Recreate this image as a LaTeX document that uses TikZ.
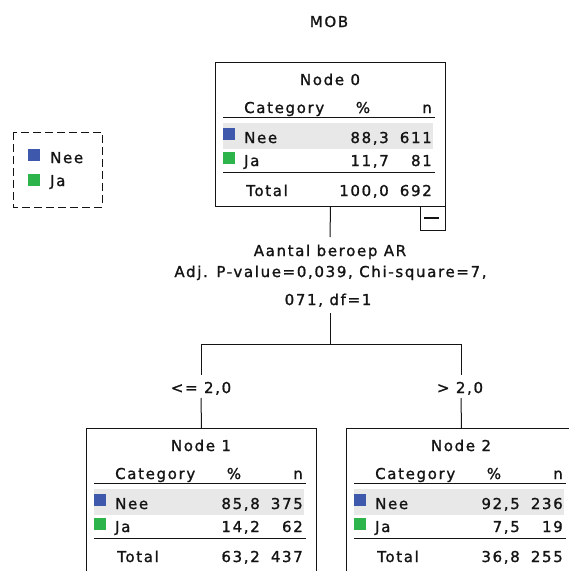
\documentclass[tikz,border=0pt]{standalone}
\usepackage{fontspec}
\setmainfont{DejaVu Sans}[LetterSpace=11,FakeBold=1.2]
\definecolor{neeblue}{RGB}{62,88,172}
\definecolor{jagreen}{RGB}{45,180,75}
\definecolor{rowgray}{RGB}{232,232,232}
\definecolor{ink}{RGB}{20,20,20}
\tikzset{
  txt/.style={inner sep=0pt, text=ink, font=\fontsize{15}{18}\selectfont},
  boxn/.style={draw=ink, line width=1pt, minimum width=230pt, anchor=north west, inner sep=0pt},
  rule/.style={draw=ink, line width=1.3pt},
  conn/.style={draw=ink, line width=1pt},
}
\newcommand\tblock[9]{%
  \node[boxn, minimum height=#9] (#1) at (0,0) {};
  \node[txt, anchor=base] (#1-title) at (115,23) {#2};
  \node[txt, anchor=base west] (#1-hc) at (29,51) {Category};
  \node[txt, anchor=base] (#1-hp) at (148,51) {\%};
  \node[txt, anchor=base east] (#1-hn) at (217,51) {n};
  \draw[rule] (8,55.5) -- (220,55.5);
  \fill[rowgray] (8,61) rectangle (218,87);
  \fill[neeblue] (8,66) rectangle (20,78);
  \node[txt, anchor=base west] (#1-nee) at (29,81) {Nee};
  \node[txt, anchor=base east] (#1-neep) at (174,81) {#3};
  \node[txt, anchor=base east] (#1-neen) at (217,81) {#4};
  \fill[jagreen] (8,90) rectangle (20,102);
  \node[txt, anchor=base west] (#1-ja) at (29,104) {Ja};
  \node[txt, anchor=base east] (#1-jap) at (174,104) {#5};
  \node[txt, anchor=base east] (#1-jan) at (217,104) {#6};
  \draw[rule] (8,110.5) -- (220,110.5);
  \node[txt, anchor=base west] (#1-tot) at (31,134) {Total};
  \node[txt, anchor=base east] (#1-totp) at (174,134) {#7};
  \node[txt, anchor=base east] (#1-totn) at (217,134) {#8};
}
\begin{document}
\begin{tikzpicture}[x=1pt,y=-1pt]
\useasboundingbox (0,0) rectangle (569,571);
\clip (0,0) rectangle (569,571);
\fill[white] (0,0) rectangle (569,571);

% title
\node[txt, anchor=base] (title) at (329,27) {MOB};

% legend
\draw[ink, line width=1pt, dash pattern=on 8pt off 4pt] (13,132) rectangle (102,207);
\fill[neeblue] (28,149) rectangle (40,161);
\node[txt, anchor=base west] (legnee) at (50,163) {Nee};
\fill[jagreen] (28,174) rectangle (40,186);
\node[txt, anchor=base west] (legja) at (50,186) {Ja};

% node 0
\begin{scope}[shift={(215,62)}]
  \tblock{n0}{Node 0}{88,3}{611}{11,7}{81}{100,0}{692}{144pt}
  \node[draw=ink, line width=1pt, minimum width=25pt, minimum height=24pt, anchor=north west, inner sep=0pt] (minus0) at (205,144) {};
  \draw[ink, line width=1.2pt] (209,156) -- (224,156);
\end{scope}

% node 1
\begin{scope}[shift={(86,428)}]
  \tblock{n1}{Node 1}{85,8}{375}{14,2}{62}{63,2}{437}{170pt}
\end{scope}

% node 2
\begin{scope}[shift={(346,428)}]
  \tblock{n2}{Node 2}{92,5}{236}{7,5}{19}{36,8}{255}{170pt}
\end{scope}

% split label
\node[txt, anchor=base] (lab1) at (330,256) {Aantal beroep AR};
\node[txt, anchor=base] (lab2) at (330.5,277) {Adj. P-value=0,039, Chi-square=7,};
\node[txt, anchor=base] (lab3) at (328,305) {071, df=1};

% connectors
\coordinate (a1) at (330,237);
\coordinate (a2) at (330,313);
\coordinate (hs) at (330,344);
\coordinate (hl) at (201,344);
\coordinate (hr) at (461,344);
\coordinate (l1a) at (201,375);
\coordinate (l1b) at (201,398);
\coordinate (r1a) at (461,375);
\coordinate (r1b) at (461,398);
\draw[conn] (n0.south) -- (a1);
\draw[conn] (a2) -- (hs);
\draw[conn] (hl) -- (hr);
\draw[conn] (hl) -- (l1a);
\draw[conn] (hr) -- (r1a);
\draw[conn] (l1b) -- (n1.north);
\draw[conn] (r1b) -- (n2.north);
\node[txt, anchor=base] (lbl1) at (201,393) {<= 2,0};
\node[txt, anchor=base] (lbl2) at (460,393) {> 2,0};
\end{tikzpicture}
\end{document}
